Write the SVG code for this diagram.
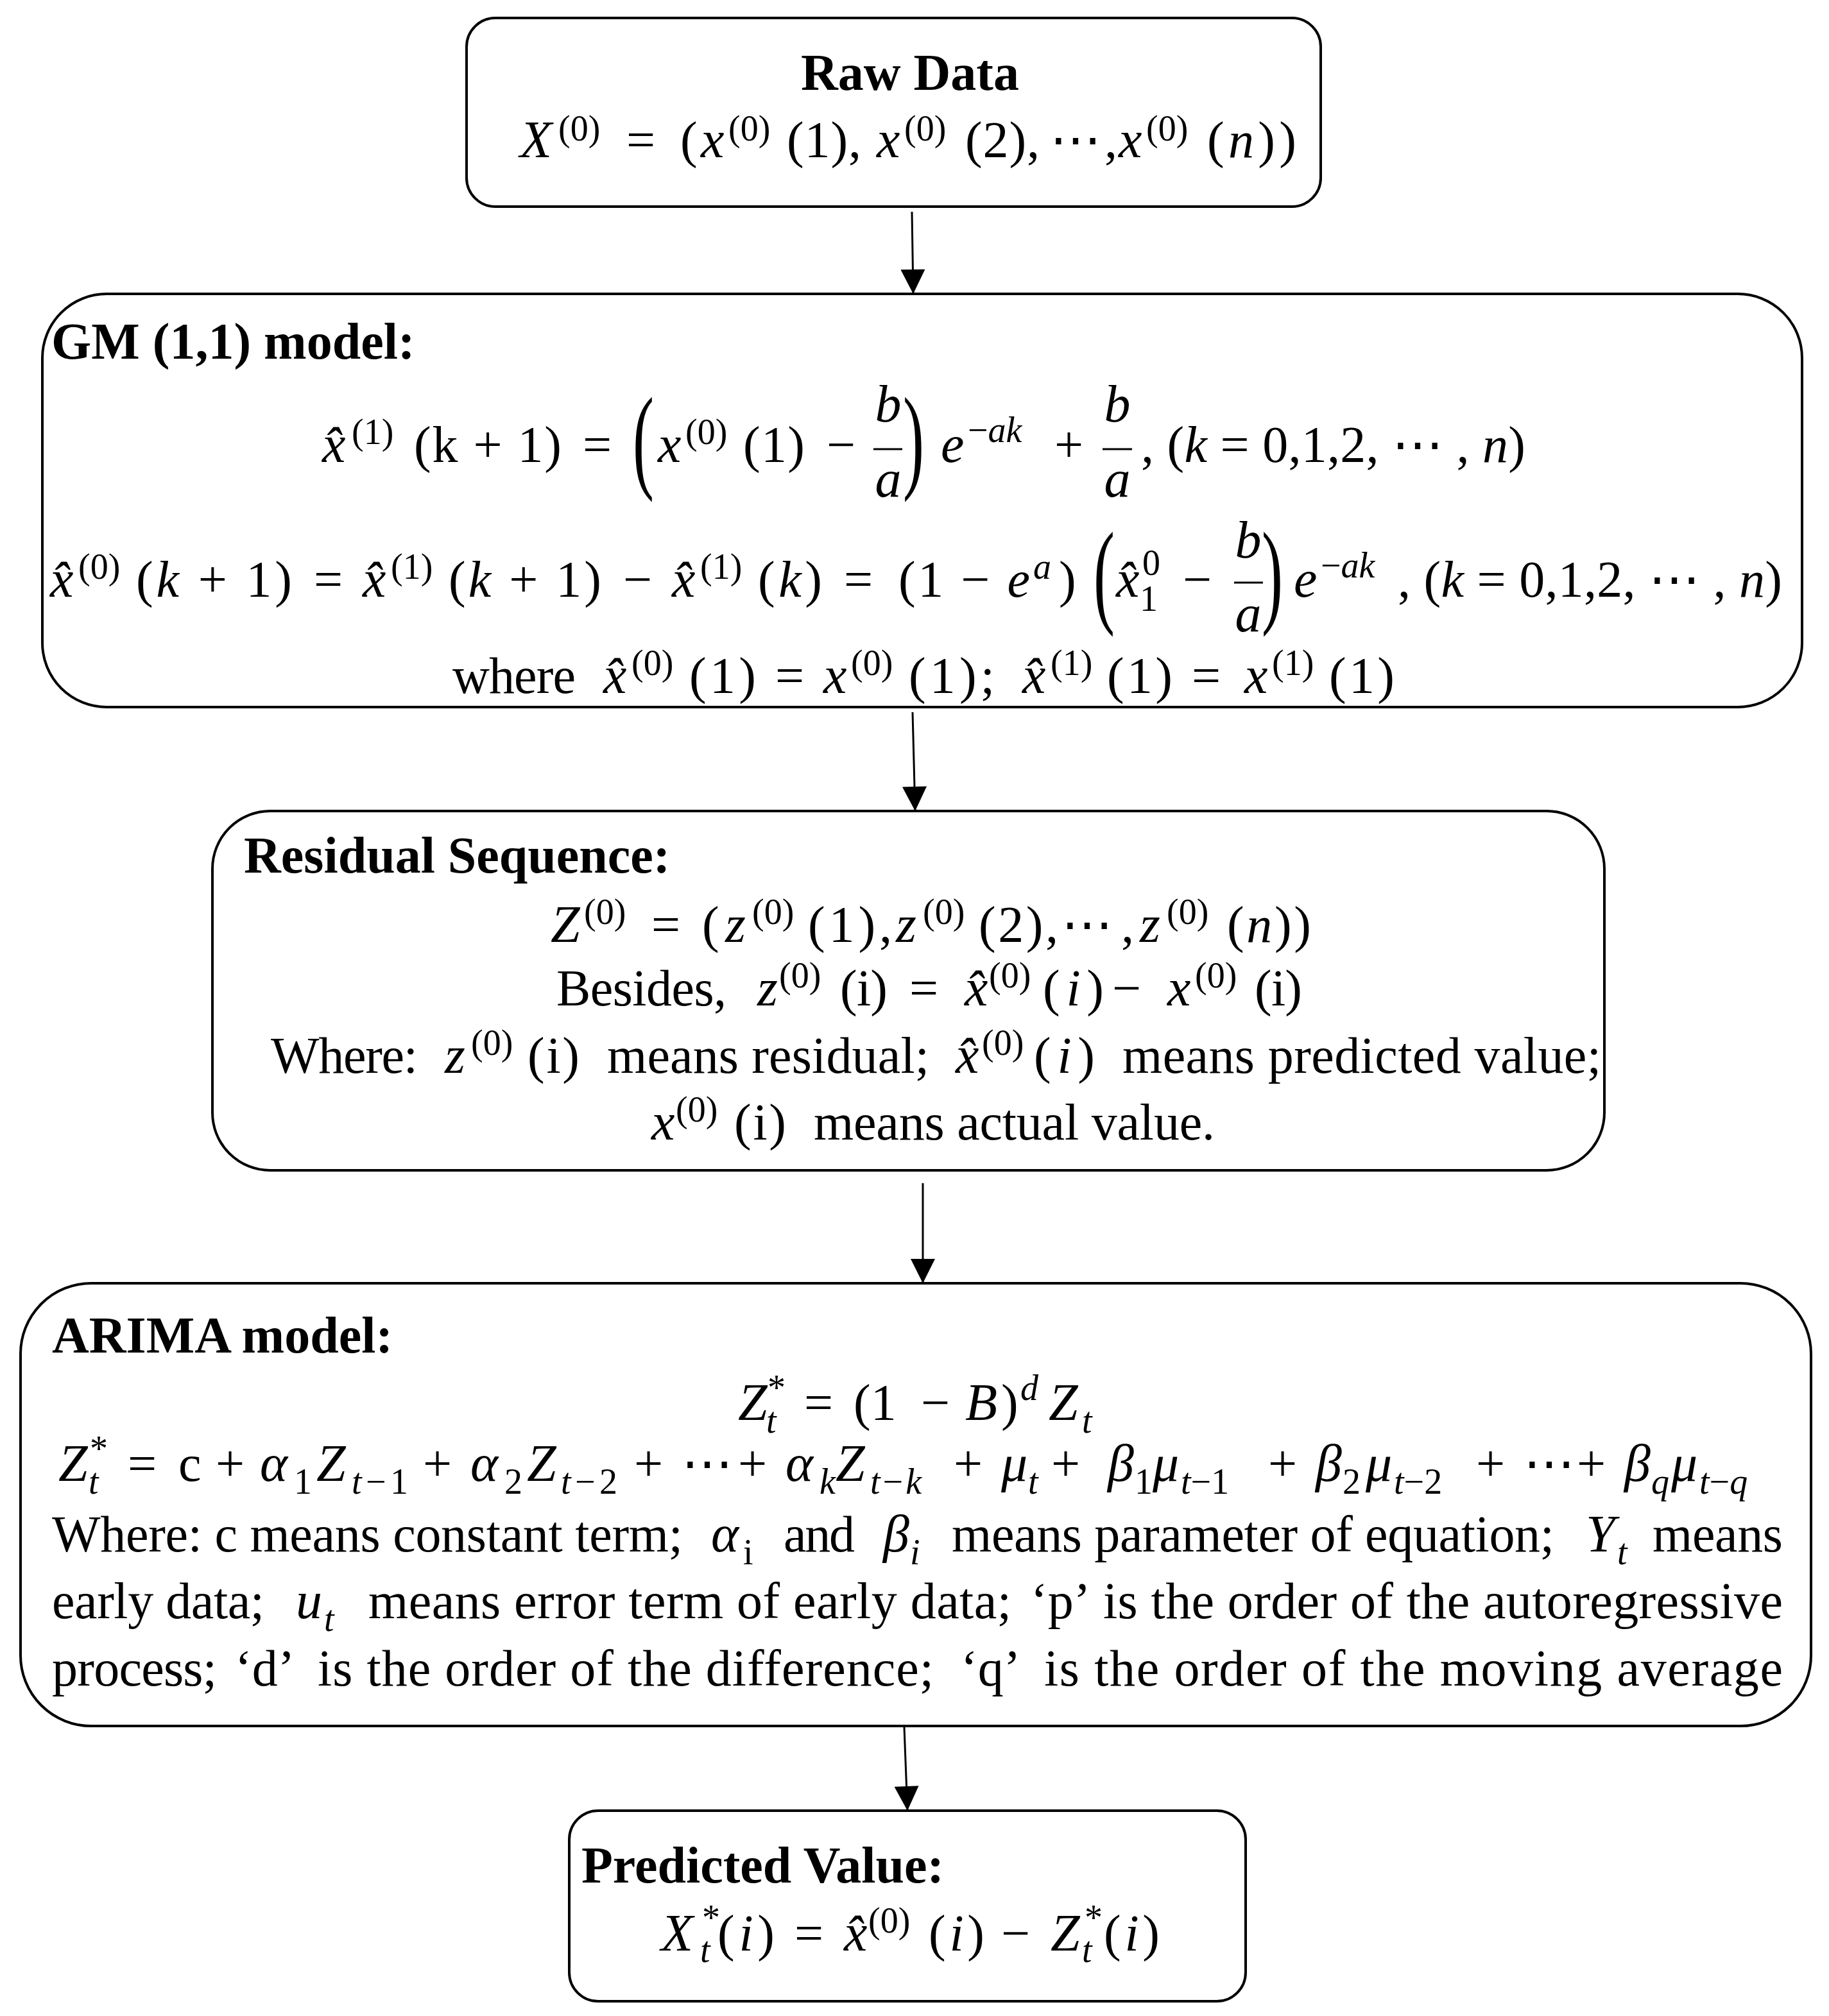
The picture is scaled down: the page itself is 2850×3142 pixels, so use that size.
<svg xmlns="http://www.w3.org/2000/svg" width="2850" height="3142" viewBox="0 0 2850 3142">
<style>
text{font-family:"Liberation Serif","Times New Roman",serif;fill:#000}
.h{font-size:80px;font-weight:bold}
.r{font-size:80px}
.m{font-size:80px}
.mi{font-size:82px;font-style:italic}
.s{font-size:56px}
.si{font-size:56px;font-style:italic}
.big{font-size:180px}
.i{font-style:italic}
.box{fill:#fff;stroke:#000;stroke-width:4}
.bar{stroke:#000;stroke-width:3}
.conn line{stroke:#000;stroke-width:3}
</style>
<defs>
<marker id="ah" viewBox="0 0 40 40" refX="40" refY="20" markerWidth="40" markerHeight="38" markerUnits="userSpaceOnUse" orient="auto">
<path d="M0,0 L40,20 L0,40 z" fill="#000"/>
</marker>
</defs>
<rect width="2850" height="3142" fill="#fff"/>

<g id="raw-data">
<rect class="box" x="727" y="28" width="1331" height="294" rx="45"/>
<text class="h" x="1418" y="140" text-anchor="middle">Raw Data</text>
<text class="mi" x="810" y="245">X</text>
<text class="s" x="870" y="219">(0)</text>
<text class="m" x="976" y="245">=</text>
<text class="m" x="1060" y="245">(</text>
<text class="mi" x="1092" y="245">x</text>
<text class="s" x="1135" y="219">(0)</text>
<text class="m" x="1226" y="245" textLength="116">(1),</text>
<text class="mi" x="1366" y="245">x</text>
<text class="s" x="1409" y="219">(0)</text>
<text class="m" x="1504" y="245" textLength="116">(2),</text>
<text class="m" x="1636" y="245">⋯</text>
<text class="m" x="1721" y="245">,</text>
<text class="mi" x="1743" y="245">x</text>
<text class="s" x="1786" y="219">(0)</text>
<text class="m" x="1881" y="245" textLength="139">(<tspan class="i">n</tspan>))</text>
</g>

<g id="gm-model">
<rect class="box" x="66" y="458" width="2742" height="644" rx="100"/>
<text class="h" x="80" y="559">GM (1,1) model:</text>
<!-- formula 1 -->
<text class="mi" x="502" y="720">x̂</text>
<text class="s" x="548" y="692">(1)</text>
<text class="m" x="645" y="720" textLength="230">(k + 1)</text>
<text class="m" x="908" y="720">=</text>
<text class="big" transform="translate(986,744) scale(0.55,1)">(</text>
<text class="mi" x="1025" y="720">x</text>
<text class="s" x="1068" y="692">(0)</text>
<text class="m" x="1158" y="720" textLength="96">(1)</text>
<text class="m" x="1288" y="720">−</text>
<text class="mi" x="1384" y="657" text-anchor="middle">b</text>
<line class="bar" x1="1361" y1="700" x2="1406" y2="700"/>
<text class="mi" x="1384" y="774" text-anchor="middle">a</text>
<text class="big" transform="translate(1407,744) scale(0.55,1)">)</text>
<text class="mi" x="1466" y="720">e</text>
<text class="si" x="1508" y="689"><tspan font-style="normal">−</tspan>ak</text>
<text class="m" x="1643" y="720">+</text>
<text class="mi" x="1741" y="657" text-anchor="middle">b</text>
<line class="bar" x1="1718" y1="700" x2="1764" y2="700"/>
<text class="mi" x="1741" y="774" text-anchor="middle">a</text>
<text class="m" x="1778" y="720" textLength="599">, (<tspan class="i">k</tspan> = 0,1,2, ⋯ , <tspan class="i">n</tspan>)</text>
<!-- formula 2 -->
<text class="mi" x="78" y="930">x̂</text>
<text class="s" x="122" y="902">(0)</text>
<text class="m" x="212" y="930" textLength="243">(<tspan class="i">k</tspan> + 1)</text>
<text class="m" x="489" y="930">=</text>
<text class="mi" x="565" y="930">x̂</text>
<text class="s" x="609" y="902">(1)</text>
<text class="m" x="699" y="930" textLength="238">(<tspan class="i">k</tspan> + 1)</text>
<text class="m" x="971" y="930">−</text>
<text class="mi" x="1047" y="930">x̂</text>
<text class="s" x="1091" y="902">(1)</text>
<text class="m" x="1181" y="930" textLength="100">(<tspan class="i">k</tspan>)</text>
<text class="m" x="1315" y="930">=</text>
<text class="m" x="1400" y="930" textLength="205">(1 − <tspan class="i">e</tspan></text>
<text class="si" x="1610" y="902">a</text>
<text class="m" x="1650" y="930">)</text>
<text class="big" transform="translate(1704,954) scale(0.55,1)">(</text>
<text class="mi" x="1739" y="930">x̂</text>
<text class="s" x="1780" y="896">0</text>
<text class="s" x="1776" y="952">1</text>
<text class="m" x="1843" y="930">−</text>
<text class="mi" x="1945" y="869" text-anchor="middle">b</text>
<line class="bar" x1="1923" y1="908" x2="1968" y2="908"/>
<text class="mi" x="1945" y="984" text-anchor="middle">a</text>
<text class="big" transform="translate(1966,954) scale(0.55,1)">)</text>
<text class="mi" x="2016" y="930">e</text>
<text class="si" x="2058" y="900"><tspan font-style="normal">−</tspan>ak</text>
<text class="m" x="2178" y="930" textLength="599">, (<tspan class="i">k</tspan> = 0,1,2, ⋯ , <tspan class="i">n</tspan>)</text>
<!-- line 3 -->
<text class="r" x="705" y="1080" textLength="192">where</text>
<text class="mi" x="940" y="1080">x̂</text>
<text class="s" x="984" y="1052">(0)</text>
<text class="m" x="1074" y="1080" textLength="104">(1)</text>
<text class="m" x="1208" y="1080">=</text>
<text class="mi" x="1283" y="1080">x</text>
<text class="s" x="1326" y="1052">(0)</text>
<text class="m" x="1416" y="1080" textLength="134">(1);</text>
<text class="mi" x="1593" y="1080">x̂</text>
<text class="s" x="1637" y="1052">(1)</text>
<text class="m" x="1725" y="1080" textLength="102">(1)</text>
<text class="m" x="1857" y="1080">=</text>
<text class="mi" x="1939" y="1080">x</text>
<text class="s" x="1982" y="1052">(1)</text>
<text class="m" x="2071" y="1080" textLength="102">(1)</text>
</g>

<g id="residual-sequence">
<rect class="box" x="331" y="1264" width="2169" height="560" rx="90"/>
<text class="h" x="380" y="1360">Residual Sequence:</text>
<text class="mi" x="858" y="1468">Z</text>
<text class="s" x="910" y="1440">(0)</text>
<text class="m" x="1015" y="1468">=</text>
<text class="m" x="1094" y="1468">(</text>
<text class="mi" x="1130" y="1468">z</text>
<text class="s" x="1172" y="1440">(0)</text>
<text class="m" x="1259" y="1468" textLength="131">(1),</text>
<text class="mi" x="1396" y="1468">z</text>
<text class="s" x="1438" y="1440">(0)</text>
<text class="m" x="1525" y="1468" textLength="124">(2),</text>
<text class="m" x="1654" y="1468">⋯</text>
<text class="m" x="1747" y="1468">,</text>
<text class="mi" x="1776" y="1468">z</text>
<text class="s" x="1818" y="1440">(0)</text>
<text class="m" x="1912" y="1468" textLength="131">(<tspan class="i">n</tspan>))</text>

<text class="r" x="867" y="1567" textLength="265">Besides,</text>
<text class="mi" x="1180" y="1567">z</text>
<text class="s" x="1214" y="1539">(0)</text>
<text class="m" x="1309" y="1567" textLength="74">(i)</text>
<text class="m" x="1417" y="1567">=</text>
<text class="mi" x="1503" y="1567">x̂</text>
<text class="s" x="1541" y="1539">(0)</text>
<text class="m" x="1625" y="1567" textLength="95">(<tspan class="i">i</tspan>)</text>
<text class="m" x="1733" y="1567">−</text>
<text class="mi" x="1819" y="1567">x</text>
<text class="s" x="1862" y="1539">(0)</text>
<text class="m" x="1955" y="1567" textLength="74">(i)</text>

<text class="r" x="422" y="1672" textLength="229">Where:</text>
<text class="mi" x="693" y="1672">z</text>
<text class="s" x="734" y="1644">(0)</text>
<text class="m" x="822" y="1672" textLength="81">(i)</text>
<text class="r" x="946" y="1672" textLength="502">means residual;</text>
<text class="mi" x="1489" y="1672">x̂</text>
<text class="s" x="1530" y="1644">(0)</text>
<text class="m" x="1611" y="1672" textLength="95">(<tspan class="i">i</tspan>)</text>
<text class="r" x="1749" y="1672" textLength="746">means predicted value;</text>

<text class="mi" x="1015" y="1776">x</text>
<text class="s" x="1053" y="1748">(0)</text>
<text class="m" x="1144" y="1776" textLength="81">(i)</text>
<text class="r" x="1268" y="1776" textLength="625">means actual value.</text>
</g>

<g id="arima-model">
<rect class="box" x="32" y="2000" width="2790" height="690" rx="110"/>
<text class="h" x="81" y="2108">ARIMA model:</text>
<!-- Z line -->
<text class="mi" x="1150" y="2213">Z</text>
<text class="s" x="1196" y="2182">*</text>
<text class="si" x="1194" y="2233">t</text>
<text class="m" x="1253" y="2213">=</text>
<text class="m" x="1330" y="2213">(1</text>
<text class="m" x="1435" y="2213">−</text>
<text class="mi" x="1504" y="2213">B</text>
<text class="m" x="1560" y="2213">)</text>
<text class="si" x="1590" y="2182">d</text>
<text class="mi" x="1634" y="2213">Z</text>
<text class="si" x="1686" y="2233">t</text>
<!-- long equation -->
<text class="mi" x="91" y="2308">Z</text>
<text class="s" x="140" y="2277">*</text>
<text class="si" x="138" y="2328">t</text>
<text class="m" x="199" y="2308">=</text>
<text class="m" x="278" y="2308">c</text>
<text class="m" x="336" y="2308">+</text>
<text class="mi" x="405" y="2308">α</text>
<text class="s" x="458" y="2328">1</text>
<text class="mi" x="493" y="2308">Z</text>
<text class="si" x="548" y="2328" textLength="88">t<tspan font-style="normal">−1</tspan></text>
<text class="m" x="659" y="2308">+</text>
<text class="mi" x="733" y="2308">α</text>
<text class="s" x="786" y="2328">2</text>
<text class="mi" x="821" y="2308">Z</text>
<text class="si" x="874" y="2328" textLength="88">t<tspan font-style="normal">−2</tspan></text>
<text class="m" x="988" y="2308">+</text>
<text class="m" x="1062" y="2308">⋯</text>
<text class="m" x="1150" y="2308">+</text>
<text class="mi" x="1224" y="2308">α</text>
<text class="si" x="1277" y="2328">k</text>
<text class="mi" x="1302" y="2308">Z</text>
<text class="si" x="1356" y="2328" textLength="80">t<tspan font-style="normal">−</tspan>k</text>
<text class="m" x="1486" y="2308">+</text>
<text class="mi" x="1560" y="2308">μ</text>
<text class="si" x="1602" y="2328">t</text>
<text class="m" x="1638" y="2308">+</text>
<text class="mi" x="1726" y="2308">β</text>
<text class="s" x="1768" y="2328">1</text>
<text class="mi" x="1796" y="2308">μ</text>
<text class="si" x="1840" y="2328">t<tspan font-style="normal">−1</tspan></text>
<text class="m" x="1976" y="2308">+</text>
<text class="mi" x="2050" y="2308">β</text>
<text class="s" x="2092" y="2328">2</text>
<text class="mi" x="2128" y="2308">μ</text>
<text class="si" x="2172" y="2328">t<tspan font-style="normal">−2</tspan></text>
<text class="m" x="2300" y="2308">+</text>
<text class="m" x="2374" y="2308">⋯</text>
<text class="m" x="2457" y="2308">+</text>
<text class="mi" x="2531" y="2308">β</text>
<text class="si" x="2573" y="2328">q</text>
<text class="mi" x="2604" y="2308">μ</text>
<text class="si" x="2648" y="2328">t<tspan font-style="normal">−</tspan>q</text>
<!-- description lines -->
<text class="r" x="81" y="2418" textLength="983">Where: c means constant term;</text>
<text class="mi" x="1108" y="2418">α</text>
<text class="s" x="1158" y="2438">i</text>
<text class="r" x="1221" y="2418" textLength="111">and</text>
<text class="mi" x="1376" y="2418">β</text>
<text class="si" x="1418" y="2438">i</text>
<text class="r" x="1483" y="2418" textLength="939">means parameter of equation;</text>
<text class="mi" x="2471" y="2418">Y</text>
<text class="si" x="2520" y="2438">t</text>
<text class="r" x="2575" y="2418" textLength="203">means</text>

<text class="r" x="81" y="2522" textLength="331">early data;</text>
<text class="mi" x="461" y="2522">u</text>
<text class="si" x="505" y="2542">t</text>
<text class="r" x="574" y="2522" textLength="1002">means error term of early data;</text>
<text class="r" x="1606" y="2522">‘p’</text>
<text class="r" x="1719" y="2522" textLength="1059">is the order of the autoregressive</text>

<text class="r" x="81" y="2627" textLength="257">process;</text>
<text class="r" x="366" y="2627">‘d’</text>
<text class="r" x="495" y="2627" textLength="960">is the order of the difference;</text>
<text class="r" x="1497" y="2627">‘q’</text>
<text class="r" x="1627" y="2627" textLength="1151">is the order of the moving average</text>
</g>

<g id="predicted-value">
<rect class="box" x="887" y="2822" width="1054" height="297" rx="45"/>
<text class="h" x="906" y="2934">Predicted Value:</text>
<text class="mi" x="1030" y="3040">X</text>
<text class="s" x="1094" y="3008">*</text>
<text class="si" x="1091" y="3058">t</text>
<text class="m" x="1118" y="3040" textLength="89">(<tspan class="i">i</tspan>)</text>
<text class="m" x="1238" y="3040">=</text>
<text class="mi" x="1315" y="3040">x̂</text>
<text class="s" x="1353" y="3012">(0)</text>
<text class="m" x="1447" y="3040" textLength="87">(<tspan class="i">i</tspan>)</text>
<text class="m" x="1560" y="3040">−</text>
<text class="mi" x="1637" y="3040">Z</text>
<text class="s" x="1690" y="3008">*</text>
<text class="si" x="1686" y="3058">t</text>
<text class="m" x="1720" y="3040" textLength="87">(<tspan class="i">i</tspan>)</text>
</g>

<g class="conn" id="connectors">
<line x1="1421" y1="330" x2="1423" y2="458" marker-end="url(#ah)"/>
<line x1="1422" y1="1110" x2="1426" y2="1264" marker-end="url(#ah)"/>
<line x1="1438" y1="1844" x2="1438" y2="2000" marker-end="url(#ah)"/>
<line x1="1409" y1="2692" x2="1414" y2="2822" marker-end="url(#ah)"/>
</g>
</svg>
